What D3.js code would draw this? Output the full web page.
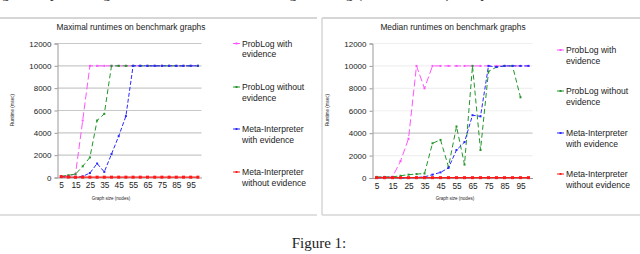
<!DOCTYPE html>
<html>
<head>
<meta charset="utf-8">
<script src="https://d3js.org/d3.v7.min.js"></script>
<style>
  body { margin: 0; background: #fff; }
  svg { display: block; }
  text { font-family: "Liberation Sans", Arial, sans-serif; fill: #222; }
</style>
</head>
<body>
<script>
// graph sizes (nodes)
var sizes = [5, 10, 15, 20, 25, 30, 35, 40, 45, 50, 55, 60, 65, 70, 75, 80, 85, 90, 95, 100];
var xTicks = [5, 15, 25, 35, 45, 55, 65, 75, 85, 95];
var yTicks = [0, 2000, 4000, 6000, 8000, 10000, 12000];
var seriesNames = ["ProbLog with evidence", "ProbLog without evidence", "Meta-Interpreter with evidence", "Meta-Interpreter without evidence"];

// maximal runtimes (msec)
var maxProbEv   = [100, 150, 300, 5100, 10000, 10000, 10000, 10000, 10000, 10000, 10000, 10000, 10000, 10000, 10000, 10000, 10000, 10000, 10000, 10000];
var maxProbNoEv = [100, 200, 300, 1000, 1800, 5100, 5700, 10000, 10000, 10000, 10000, 10000, 10000, 10000, 10000, 10000, 10000, 10000, 10000, 10000];
var maxMetaEv   = [50, 50, 0, 100, 400, 1250, 500, 2100, 3700, 5500, 10000, 10000, 10000, 10000, 10000, 10000, 10000, 10000, 10000, 10000];
var maxMetaNoEv = [80, 40, 30, 30, 30, 30, 30, 30, 30, 30, 30, 30, 30, 30, 30, 30, 30, 30, 30, 30];

// median runtimes (msec)
var medProbEv   = [50, 80, 100, 1500, 3500, 10000, 8000, 10000, 10000, 10000, 10000, 10000, 10000, 10000, 10000, 10000, 10000, 10000, 10000, 10000];
var medProbNoEv = [100, 100, 100, 200, 300, 350, 400, 3100, 3400, 1000, 4600, 1200, 10000, 2500, 9500, 9900, 10000, 10000, 7200, null];
var medMetaEv   = [0, 50, 50, 0, 0, 50, 100, 300, 500, 900, 2500, 3200, 5600, 5500, 10000, 9900, 10000, 10000, 10000, 10000];
var medMetaNoEv = [30, 30, 30, 30, 30, 30, 30, 30, 30, 30, 30, 30, 30, 30, 30, 30, 30, 30, 30, 30];

var colors = ["#ff55ff", "#22962a", "#2a2aff", "#ff1a1a"];
var dashes = ["7,3", "5,3", "4,2", null];

var W = 640, H = 254;
var svg = d3.select("body").append("svg").attr("width", W).attr("height", H);

// cut-off line of text from the page above
svg.append("text")
    .attr("x", 2).attr("y", -2)
    .style("font-family", "'Liberation Serif', 'Times New Roman', serif")
    .style("font-size", "15px")
    .text("generally fast. Figure 1 shows the runtimes using ProbLog (with evidence) compared to the runtimes of the Meta-Interpreter using ProbLog query strategy");

function drawChart(c) {
    // frame
    var f = svg.append("g");
    f.append("line").attr("x1", c.box[0]).attr("x2", c.box[1]).attr("y1", 18).attr("y2", 18)
        .attr("stroke", "#d6d6d6").attr("stroke-width", 2);
    f.append("line").attr("x1", c.box[0]).attr("x2", c.box[1]).attr("y1", 215).attr("y2", 215)
        .attr("stroke", "#d6d6d6").attr("stroke-width", 1.5);
    if (c.leftBorder) {
        f.append("line").attr("x1", c.box[0]).attr("x2", c.box[0]).attr("y1", 18).attr("y2", 215)
            .attr("stroke", "#d6d6d6").attr("stroke-width", 1.5);
    }

    var x = d3.scalePoint().domain(sizes).range(c.xr).padding(0.5);
    var y = d3.scaleLinear().domain([0, 12000]).range(c.yr);

    // gridlines
    svg.append("g").selectAll("line").data(yTicks.slice(1)).enter().append("line")
        .attr("x1", c.xr[0]).attr("x2", c.xr[1])
        .attr("y1", function(d) { return y(d); }).attr("y2", function(d) { return y(d); })
        .attr("stroke", function(d) { return c.gridColor(d); }).attr("stroke-width", 1.2);

    // axes
    var ya = svg.append("g").attr("transform", "translate(" + c.xr[0] + ",0)")
        .call(d3.axisLeft(y).tickValues(yTicks).tickSize(3).tickPadding(3).tickFormat(d3.format("d")));
    var xa = svg.append("g").attr("transform", "translate(0," + c.yr[0] + ")")
        .call(d3.axisBottom(x).tickValues(xTicks).tickSize(0).tickPadding(5));
    [ya, xa].forEach(function(a) {
        a.select(".domain").attr("stroke", "#999");
        a.selectAll(".tick line").attr("stroke", "#999");
        a.selectAll("text").style("font-size", "8px").attr("fill", "#222")
            .style("font-family", "'Liberation Sans', Arial, sans-serif");
    });
    xa.selectAll("text").style("font-size", "8.3px");

    // titles
    svg.append("text").attr("x", c.titleX).attr("y", 30).attr("text-anchor", "middle")
        .style("font-size", "8.4px").text(c.title);
    svg.append("text").attr("x", c.xTitleX).attr("y", 200).attr("text-anchor", "middle")
        .style("font-size", "4.5px").text("Graph size (nodes)");
    svg.append("text").attr("transform", "translate(" + c.yTitleX + ",110) rotate(-90)")
        .attr("text-anchor", "middle").style("font-size", "4.5px").text("Runtime (msec)");

    // series
    var line = d3.line()
        .defined(function(d) { return d != null; })
        .x(function(d, i) { return x(sizes[i]); })
        .y(function(d) { return y(d); });
    c.series.forEach(function(s, k) {
        var m = k == 3 ? 3 : 2;
        svg.append("path").datum(s)
            .attr("d", line).attr("fill", "none")
            .attr("stroke", colors[k]).attr("stroke-width", k == 3 ? 1.3 : 1)
            .attr("stroke-dasharray", dashes[k]);
        svg.append("g").selectAll("rect").data(s.map(function(v, i) { return [sizes[i], v]; })
                .filter(function(p) { return p[1] != null; }))
            .enter().append("rect")
            .attr("x", function(p) { return x(p[0]) - m / 2; })
            .attr("y", function(p) { return y(p[1]) - m / 2; })
            .attr("width", m).attr("height", m)
            .attr("fill", colors[k]);
    });

    // legend
    var lg = svg.append("g");
    var labels = [["ProbLog with", "evidence"], ["ProbLog without", "evidence"],
                  ["Meta-Interpreter", "with evidence"], ["Meta-Interpreter", "without evidence"]];
    labels.forEach(function(l, k) {
        var ly = c.legY[k];
        lg.append("line").attr("x1", c.legX - 9).attr("x2", c.legX - 2).attr("y1", ly).attr("y2", ly)
            .attr("stroke", colors[k]).attr("stroke-width", 1).attr("stroke-dasharray", dashes[k] ? "3,1" : null);
        lg.append("rect").attr("x", c.legX - 6.5).attr("y", ly - 1).attr("width", 2).attr("height", 2)
            .attr("fill", colors[k]);
        lg.append("text").attr("x", c.legX).attr("y", ly + 3).style("font-size", "8.6px").text(l[0]);
        lg.append("text").attr("x", c.legX).attr("y", ly + 13.5).style("font-size", "8.6px").text(l[1]);
    });
}

drawChart({
    box: [0, 317], leftBorder: false,
    xr: [57.5, 201.5], yr: [177.5, 43.5],
    title: "Maximal runtimes on benchmark graphs", titleX: 131,
    xTitleX: 111, yTitleX: 14,
    gridColor: function(d) { return "#c8c8c8"; },
    series: [maxProbEv, maxProbNoEv, maxMetaEv, maxMetaNoEv],
    legX: 242, legY: [43.5, 87, 129, 172]
});

drawChart({
    box: [322, 640], leftBorder: true,
    xr: [372.5, 532.5], yr: [178, 43.5],
    title: "Median runtimes on benchmark graphs", titleX: 453,
    xTitleX: 455, yTitleX: 329,
    gridColor: function(d) { return d == 4000 ? "#c8c8c8" : "#f0f0f0"; },
    series: [medProbEv, medProbNoEv, medMetaEv, medMetaNoEv],
    legX: 566, legY: [50, 91, 133, 174]
});

// caption
svg.append("text").attr("x", 319).attr("y", 248).attr("text-anchor", "middle")
    .style("font-family", "'Liberation Serif', 'Times New Roman', serif")
    .style("font-size", "15px").text("Figure 1:");
</script>
</body>
</html>
